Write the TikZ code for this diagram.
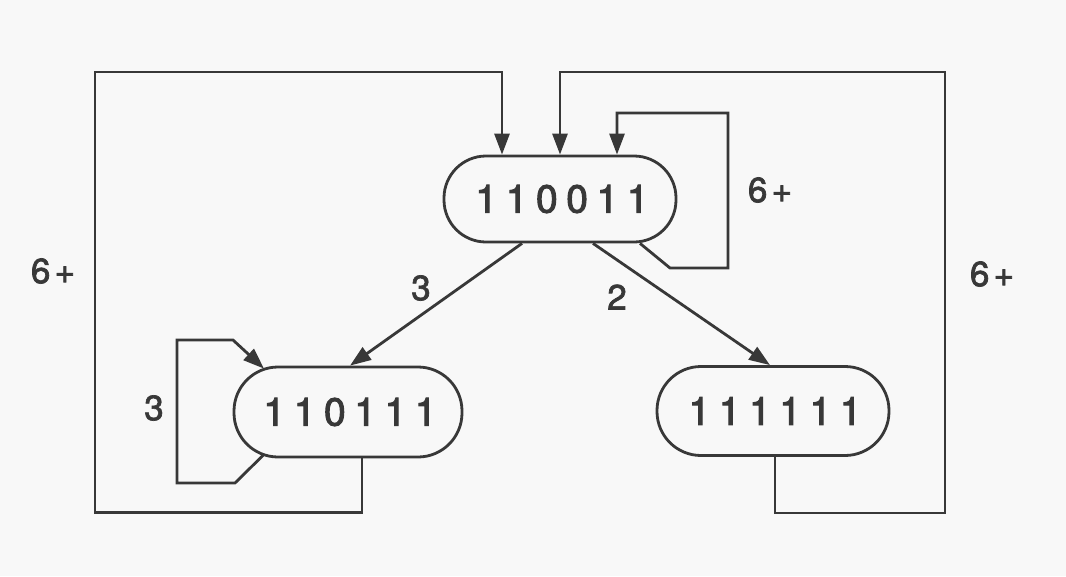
\documentclass[tikz,border=0pt]{standalone}
\usepackage{fontspec}
\setmainfont{TeX Gyre Heros}
\newfontfamily\nodefont[LetterSpace=22,FakeBold=2.5]{TeX Gyre Heros}
\newfontfamily\labfont[LetterSpace=12,FakeBold=2.0]{TeX Gyre Heros}
\usetikzlibrary{arrows.meta}
\definecolor{ink}{HTML}{383838}
\definecolor{paper}{HTML}{F8F8F8}
\begin{document}
\begin{tikzpicture}[x=1pt,y=-1pt,
  state/.style={draw=ink, line width=2.8pt, rounded corners=42pt, inner sep=0pt,
    minimum width=232pt, minimum height=86pt, text=ink,
    font=\nodefont\fontsize{39}{39}\selectfont},
  wire/.style={draw=ink, line width=2.8pt},
  arr/.style={wire, -{Triangle[length=21pt,width=15pt]}},
  lab/.style={text=ink, inner sep=0pt, font=\labfont\fontsize{35}{35}\selectfont}]
\fill[paper] (0,0) rectangle (1066,576);
\useasboundingbox (0,0) rectangle (1066,576);

\node[state] (A) at (560,199) {\hspace*{4pt}110011};
\node[state, minimum width=228pt, minimum height=90pt, rounded corners=44pt] (B) at (348,412) {\hspace*{4pt}110111};
\node[state, minimum width=232pt, minimum height=89pt, rounded corners=44pt] (C) at (773,411) {\hspace*{4pt}111111};

% edges between states
\draw[arr] ([xshift=-38pt]A.south) -- ([xshift=2pt]B.north);
\draw[arr] ([xshift=33pt]A.south) -- ([xshift=-3pt]C.north);

% outer loops
\draw[arr] ([xshift=14pt]B.south) -- ++(0,54) -| (95,72) -| ([xshift=-58pt]A.north);
\draw[arr] ([xshift=2pt]C.south) -- ++(0,56) -| (945,72) -| (A.north);

% self loops
\draw[arr] ([xshift=80pt]A.south) -- (670,268) -| (728,113) -| ([xshift=57pt]A.north);
\draw[arr] ([shift={(-85pt,3pt)}]B.south) -- (235,483) -| (177,340) -- (233,340) -- ([shift={(-84pt,-3pt)}]B.north);

% labels
\node[lab] (l1) at (53,271) {6+};
\node[lab] (l2) at (770,190) {6+};
\node[lab] (l3) at (992,274) {6+};
\node[lab] (l4) at (421,288) {3};
\node[lab] (l5) at (617,297) {2};
\node[lab] (l6) at (154,408) {3};
\end{tikzpicture}
\end{document}
